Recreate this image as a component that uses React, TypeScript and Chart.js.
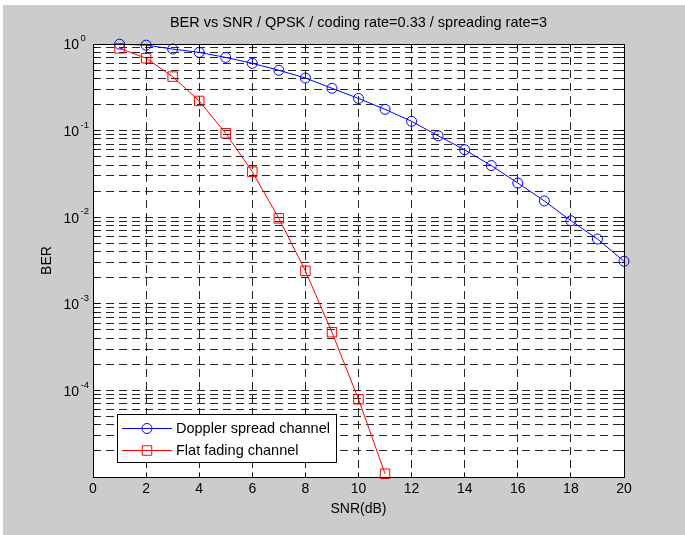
import React, { useEffect, useRef } from 'react';
import { Chart, registerables } from 'chart.js';

Chart.register(...registerables);

// ---- data ----
const snrDb = [1, 2, 3, 4, 5, 6, 7, 8, 9, 10, 11, 12, 13, 14, 15, 16, 17, 18, 19, 20];
const dopplerBER = [0.995, 0.97, 0.875, 0.8, 0.7, 0.598, 0.497, 0.405, 0.308, 0.235, 0.176, 0.128, 0.087, 0.06, 0.0395, 0.0248, 0.0154, 0.0091, 0.0056, 0.0031];
const flatBER = [0.89, 0.685, 0.42, 0.22, 0.093, 0.0335, 0.0097, 0.0024, 0.00047, 0.000079, 0.0000109];
const xTickValues = [0, 2, 4, 6, 8, 10, 12, 14, 16, 18, 20];
const yDecadeExponents = [-5, -4, -3, -2, -1, 0];
const yMinorMantissas = [1, 2, 3, 4, 5, 6, 7, 8, 9];
const yLabelExponents = [-4, -3, -2, -1, 0];
const seriesLabels = ['Doppler spread channel', 'Flat fading channel'];
const titleText = 'BER vs SNR / QPSK / coding rate=0.33 / spreading rate=3';
const xAxisLabel = 'SNR(dB)';
const yAxisLabel = 'BER';
const yMin = 1e-5;
const yMax = 1;

const FONT = '"Liberation Sans", Arial, Helvetica, sans-serif';

const yTickValues: number[] = [];
yDecadeExponents.forEach((e) => {
  yMinorMantissas.forEach((m) => {
    const v = parseFloat(`${m}e${e}`);
    if (v >= yMin && v <= yMax) yTickValues.push(v);
  });
});

const align = (p: number) => Math.round(p - 0.5) + 0.5;

const matlabPlugin = {
  id: 'matlabDecor',
  beforeDraw(chart: any) {
    const { ctx, width, height, chartArea: a } = chart;
    ctx.save();
    ctx.fillStyle = '#ffffff';
    ctx.fillRect(0, 0, width, height);
    ctx.fillStyle = '#cccccc';
    ctx.fillRect(3, 5, width - 3, height - 5);
    ctx.fillStyle = '#ffffff';
    ctx.fillRect(a.left, a.top, a.right - a.left, a.bottom - a.top);
    ctx.restore();
  },
  afterDraw(chart: any) {
    const { ctx, chartArea: a } = chart;
    const xs = chart.scales.x;
    const ys = chart.scales.y;
    const L = align(a.left), R = align(a.right), T = align(a.top), B = align(a.bottom);
    ctx.save();
    // frame
    ctx.strokeStyle = '#000';
    ctx.lineWidth = 1;
    ctx.setLineDash([]);
    ctx.strokeRect(L, T, R - L, B - T);
    // inward ticks
    ctx.beginPath();
    xTickValues.forEach((v) => {
      const px = align(xs.getPixelForValue(v));
      ctx.moveTo(px, B); ctx.lineTo(px, B - 5);
      ctx.moveTo(px, T); ctx.lineTo(px, T + 5);
    });
    yTickValues.forEach((v) => {
      const py = align(ys.getPixelForValue(v));
      const major = Math.abs(Math.log10(v) - Math.round(Math.log10(v))) < 1e-9;
      const len = major ? 5 : 3;
      ctx.moveTo(L, py); ctx.lineTo(L + len, py);
      ctx.moveTo(R, py); ctx.lineTo(R - len, py);
    });
    ctx.stroke();

    // y tick labels 10^n
    ctx.fillStyle = '#000';
    ctx.textBaseline = 'middle';
    ctx.textAlign = 'left';
    yLabelExponents.forEach((e) => {
      const py = ys.getPixelForValue(parseFloat(`1e${e}`));
      ctx.font = `14px ${FONT}`;
      ctx.fillText('10', 63.5, py + 1.5);
      ctx.font = `9.5px ${FONT}`;
      ctx.fillText(e === 0 ? '0' : `-${Math.abs(e)}`, 80.5, py - 5.5);
    });

    // y axis label
    ctx.save();
    ctx.translate(47, (a.top + a.bottom) / 2);
    ctx.rotate(-Math.PI / 2);
    ctx.textAlign = 'center';
    ctx.font = `14px ${FONT}`;
    ctx.fillText(yAxisLabel, 0, 0);
    ctx.restore();

    // legend
    const bx = 117.5, by = 414.5, bw = 219, bh = 48;
    ctx.fillStyle = '#fff';
    ctx.fillRect(bx, by, bw, bh);
    ctx.strokeStyle = '#000';
    ctx.lineWidth = 1;
    ctx.strokeRect(bx, by, bw, bh);
    const rows = [428.5, 450.5];
    chart.data.datasets.forEach((ds: any, i: number) => {
      const ry = rows[i];
      ctx.strokeStyle = ds.borderColor;
      ctx.lineWidth = 1;
      ctx.beginPath();
      ctx.moveTo(122, ry); ctx.lineTo(172, ry);
      ctx.stroke();
      ctx.beginPath();
      if (ds.pointStyle === 'circle') {
        ctx.arc(147, ry, ds.pointRadius, 0, Math.PI * 2);
      } else {
        const h = ds.pointRadius * Math.SQRT1_2;
        ctx.rect(147 - h, ry - h, 2 * h, 2 * h);
      }
      ctx.stroke();
      ctx.fillStyle = '#000';
      ctx.font = `14.5px ${FONT}`;
      ctx.textAlign = 'left';
      ctx.textBaseline = 'middle';
      ctx.fillText(ds.label, 176, ry);
    });
    ctx.restore();
  },
};

export default function App() {
  const canvasRef = useRef<HTMLCanvasElement | null>(null);

  useEffect(() => {
    if (!canvasRef.current) return;
    Chart.defaults.font.family = FONT;
    Chart.defaults.color = '#000';
    const gridColor = 'rgba(0,0,0,0.85)';
    const chart = new Chart(canvasRef.current, {
      type: 'line',
      data: {
        datasets: [
          {
            label: seriesLabels[0],
            data: snrDb.map((x, i) => ({ x, y: dopplerBER[i] })),
            borderColor: '#0000ff',
            borderWidth: 1,
            pointStyle: 'circle',
            pointRadius: 5,
            pointBorderWidth: 1,
            pointBorderColor: '#0000ff',
            pointBackgroundColor: 'rgba(0,0,0,0)',
            fill: false,
            tension: 0,
            clip: false,
          } as any,
          {
            label: seriesLabels[1],
            data: flatBER.map((y, i) => ({ x: snrDb[i], y })),
            borderColor: '#ff0000',
            borderWidth: 1,
            pointStyle: 'rect',
            pointRadius: 6.7,
            pointBorderWidth: 1,
            pointBorderColor: '#ff0000',
            pointBackgroundColor: 'rgba(0,0,0,0)',
            fill: false,
            tension: 0,
            clip: false,
          } as any,
        ],
      },
      options: {
        animation: false,
        responsive: true,
        maintainAspectRatio: false,
        devicePixelRatio: 1,
        layout: { padding: { left: 93, right: 61, top: 0, bottom: 0 } },
        plugins: {
          legend: { display: false },
          tooltip: { enabled: false },
          title: {
            display: true,
            text: titleText,
            color: '#000',
            font: { size: 14.5, weight: 'normal', family: FONT },
            padding: { top: 14.3, bottom: 12.3 },
          },
        },
        scales: {
          x: {
            type: 'linear',
            min: 0,
            max: 20,
            afterFit: (s: any) => { s.height = 58; },
            afterBuildTicks: (s: any) => { s.ticks = xTickValues.map((v) => ({ value: v })); },
            ticks: { font: { size: 14, family: FONT }, color: '#000', padding: 4, maxRotation: 0, autoSkip: false },
            grid: { color: gridColor, lineWidth: 1, drawTicks: false },
            border: { display: false, dash: [8, 5] },
            title: { display: true, text: xAxisLabel, color: '#000', font: { size: 14, family: FONT }, padding: { top: 0, bottom: 17.6 } },
          },
          y: {
            type: 'logarithmic',
            min: yMin,
            max: yMax,
            afterBuildTicks: (s: any) => { s.ticks = yTickValues.map((v) => ({ value: v })); },
            ticks: { display: false },
            grid: { color: gridColor, lineWidth: 1, drawTicks: false },
            border: { display: false, dash: [8, 5] },
          },
        },
      } as any,
      plugins: [matlabPlugin],
    });
    return () => chart.destroy();
  }, []);

  return (
    <div style={{ position: 'absolute', left: 0, top: 0, width: 685, height: 535 }}>
      <canvas ref={canvasRef} />
    </div>
  );
}
